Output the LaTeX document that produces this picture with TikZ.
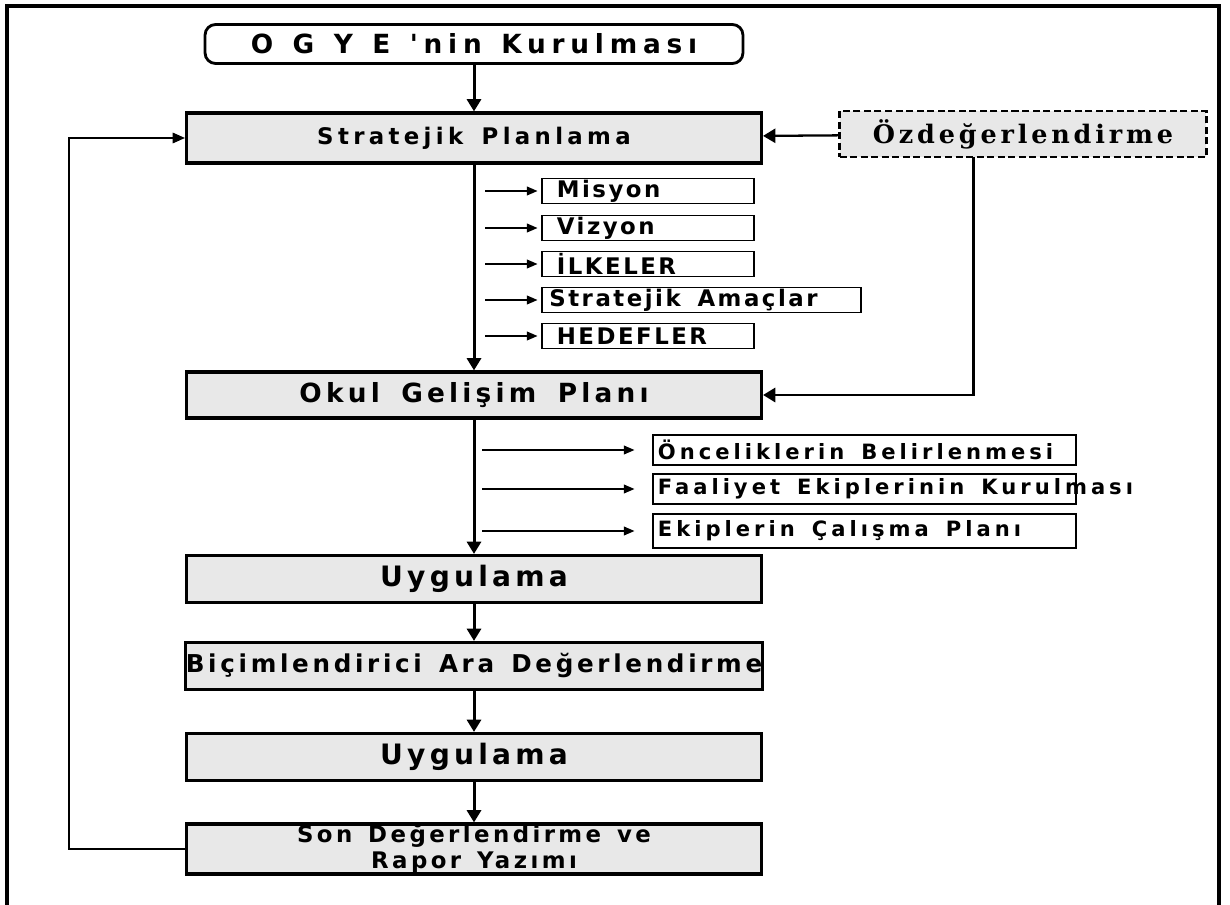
\documentclass[tikz,border=0pt]{standalone}
\usepackage{fontspec}
\setmainfont{DejaVu Sans}
\newfontfamily\ogyefont[LetterSpace=22,WordSpace=1.3]{DejaVu Sans}
\newfontfamily\planfont[LetterSpace=19,WordSpace=1.6]{DejaVu Sans}
\newfontfamily\okulfont[LetterSpace=16,WordSpace=1.6]{DejaVu Sans}
\newfontfamily\subfont[LetterSpace=11,WordSpace=1.6]{DejaVu Sans}
\newfontfamily\listfont[LetterSpace=19,WordSpace=1.5]{DejaVu Sans}
\newfontfamily\ozfont[LetterSpace=15]{DejaVu Serif}
\newfontfamily\heavyfont[LetterSpace=15,WordSpace=1.4]{DejaVu Sans}
\usepackage{tikz}
\usetikzlibrary{arrows.meta}

\definecolor{boxgray}{HTML}{E8E8E8}

\begin{document}
\begin{tikzpicture}[
    x=0.02cm, y=-0.02cm, % one unit = one pixel of the original
    semithick,
    edge_main/.style = {draw=black, line width=1.7pt, -{Triangle[length=7pt,width=8pt]}},
    edge_thin/.style = {draw=black, line width=0.7pt, -{Triangle[length=6pt,width=5pt]}, shorten >=2pt},
    edge_back/.style = {draw=black, line width=0.8pt, -{Triangle[length=7pt,width=6pt]}}
    ]
    \tikzstyle{node_main} = [draw=black, line width=1.8pt, fill=boxgray, minimum width=11.5cm, minimum height=0.94cm, inner sep=0pt]
    \tikzstyle{node_sub} = [draw=black, line width=1pt, fill=white, anchor=west, minimum height=0.5cm, inner xsep=0.3cm, inner ysep=0pt, align=flush left, text width=3.64cm, font=\subfont\bfseries\fontsize{13}{14}\selectfont]
    \tikzstyle{node_list} = [draw=black, line width=1pt, fill=white, anchor=west, minimum height=0.6cm, inner xsep=0.1cm, inner ysep=0pt, align=flush left, text width=8.26cm, font=\listfont\bfseries\fontsize{12}{14}\selectfont]
    \tikzstyle{node_heavy} = [node_main, font=\heavyfont\bfseries\fontsize{16}{18}\selectfont]

    \useasboundingbox (0,0) rectangle (1230,905);
    \draw[line width=2.3pt] (7,910) -- (7,6) -- (1219,6) -- (1219,910);

    \node[draw=black, line width=1.6pt, rounded corners=6pt, fill=white, minimum width=10.76cm, minimum height=0.78cm, font=\ogyefont\bfseries\fontsize{15}{17}\selectfont] (ogye) at (474,44) {O G Y E 'nin Kurulması};
    \node[node_main, minimum height=1cm, font=\planfont\bfseries\fontsize{13}{15}\selectfont] (plan) at (474,138) {Stratejik Planlama};
    \node[draw=black, line width=1.2pt, dash pattern=on 4pt off 2pt, fill=boxgray, minimum width=7.34cm, minimum height=0.92cm, font=\ozfont\bfseries\fontsize{14.5}{16}\selectfont] (ozd) at (1023,134) {Özdeğerlendirme};

    \node[node_sub] (mis) at (541,191) {Misyon};
    \node[node_sub] (viz) at (541,228) {Vizyon};
    \node[node_sub] (ilk) at (541,264) {İLKELER};
    \node[node_sub, inner xsep=0.15cm, text width=6.08cm] (ama) at (541,300) {Stratejik Amaçlar};
    \node[node_sub] (hed) at (541,336) {HEDEFLER};

    \node[node_main, minimum height=0.92cm, font=\okulfont\bfseries\fontsize{15}{17}\selectfont] (ogp) at (474,395) {Okul Gelişim Planı};

    \node[node_list] (onc) at (652,450) {Önceliklerin Belirlenmesi};
    \node[node_list] (faa) at (652,489) {\rlap{Faaliyet Ekiplerinin Kurulması}};
    \node[node_list, minimum height=0.68cm] (eki) at (652,531) {Ekiplerin Çalışma Planı};

    \node[node_heavy] (uyg1) at (474,579) {Uygulama};
    \node[node_heavy, font=\heavyfont\bfseries\fontsize{14}{16}\selectfont] (bic) at (474,666) {Biçimlendirici Ara Değerlendirme};
    \node[node_heavy] (uyg2) at (474,757) {Uygulama};
    \node[node_heavy, minimum height=1cm, align=center, font=\heavyfont\bfseries\fontsize{13}{15}\selectfont] (son) at (474,849) {Son Değerlendirme ve\\Rapor Yazımı};

    \coordinate (stem1) at (485,0);
    \coordinate (stem2) at (482,0);
    \coordinate (ozdtap) at (973,157);
    \coordinate (back) at (69,0);

    \draw[edge_main] (ogye) edge (plan);
    \draw[edge_main] (plan) edge (ogp);
    \draw[edge_main] (ogp) edge (uyg1);
    \draw[edge_main] (uyg1) edge (bic);
    \draw[edge_main] (bic) edge (uyg2);
    \draw[edge_main] (uyg2) edge (son);
    \draw[edge_main, line width=1.3pt] (ozd) -- (plan);
    \draw[edge_main] (ozdtap) |- (ogp.east);

    \foreach \s in {mis,viz,ilk,ama,hed}
        \draw[edge_thin] (stem1 |- \s.west) -- (\s.west);
    \foreach \s in {onc,faa,eki}
        \draw[edge_thin, shorten >=10pt] (stem2 |- \s.west) -- (\s.west);

    \draw[edge_back] (son.west) -- (son.west -| back) -- (back |- plan.west) -- (plan.west);
\end{tikzpicture}
\end{document}
